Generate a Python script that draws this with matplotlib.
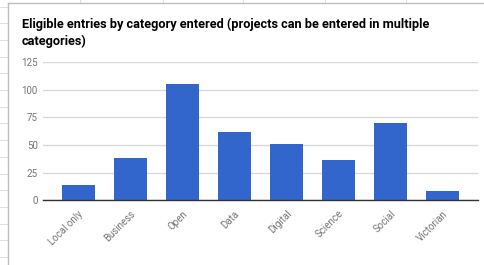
import numpy as np
import matplotlib
matplotlib.use("Agg")
import matplotlib.pyplot as plt
from matplotlib.lines import Line2D

categories = ["Local only", "Business", "Open", "Data", "Digital",
              "Science", "Social", "Victorian"]
entries = [14, 38, 105, 62, 51, 36, 70, 8]
y_ticks = [0, 25, 50, 75, 100, 125]

W, H = 484, 265
fig = plt.figure(figsize=(W / 100, H / 100), dpi=100)
fig.patch.set_facecolor("white")

# spreadsheet grid peeking out behind the chart
grid_col = "#e0e0e0"
for x in [80, 163, 243, 325, 406]:
    fig.add_artist(Line2D([x / W, x / W], [1, 1 - 3 / H], color=grid_col, lw=0.8))
for y in np.arange(6.6, H, 16.7):
    fig.add_artist(Line2D([0, 8 / W], [1 - y / H, 1 - y / H], color=grid_col, lw=0.8))
# chart frame
fig.add_artist(Line2D([8 / W, 8 / W], [0, 1 - 3 / H], color="#bdbdbd", lw=1))
fig.add_artist(Line2D([8 / W, 1], [1 - 3 / H, 1 - 3 / H], color="#bdbdbd", lw=1))

fig.text(21.5 / W, 1 - 18 / H,
         "Eligible entries by category entered (projects can be entered in multiple\ncategories)",
         fontsize=9.2, fontweight="bold", family="Roboto", color="#000000",
         va="top", ha="left", linespacing=1.3)

left, right = 43.3 / W, 478 / W
bottom, top = (H - 200.3) / H, (H - 62) / H
ax = fig.add_axes([left, bottom, right - left, top - bottom])

x = np.arange(len(categories))
ax.bar(x, entries, width=0.64, color="#3366cc", zorder=3)
ax.set_xlim(-0.67, len(categories) - 1 + 0.68)
ax.set_ylim(0, 125)
ax.set_yticks(y_ticks)
ax.set_yticklabels([str(v) for v in y_ticks], fontsize=7, color="#757575", family="Roboto")
ax.set_xticks(x)
ax.set_xticklabels(categories, rotation=45, ha="right", rotation_mode="anchor",
                   fontsize=7, color="#757575", family="Roboto")
ax.tick_params(axis="both", length=0, pad=4)
ax.tick_params(axis="x", pad=6)
ax.grid(axis="y", color="#d9d9d9", lw=1, zorder=0)
for s in ["top", "right", "left"]:
    ax.spines[s].set_visible(False)
ax.spines["bottom"].set_color("#333333")
ax.spines["bottom"].set_linewidth(1)
ax.spines["bottom"].set_zorder(4)

fig.savefig("out.png", dpi=100)
